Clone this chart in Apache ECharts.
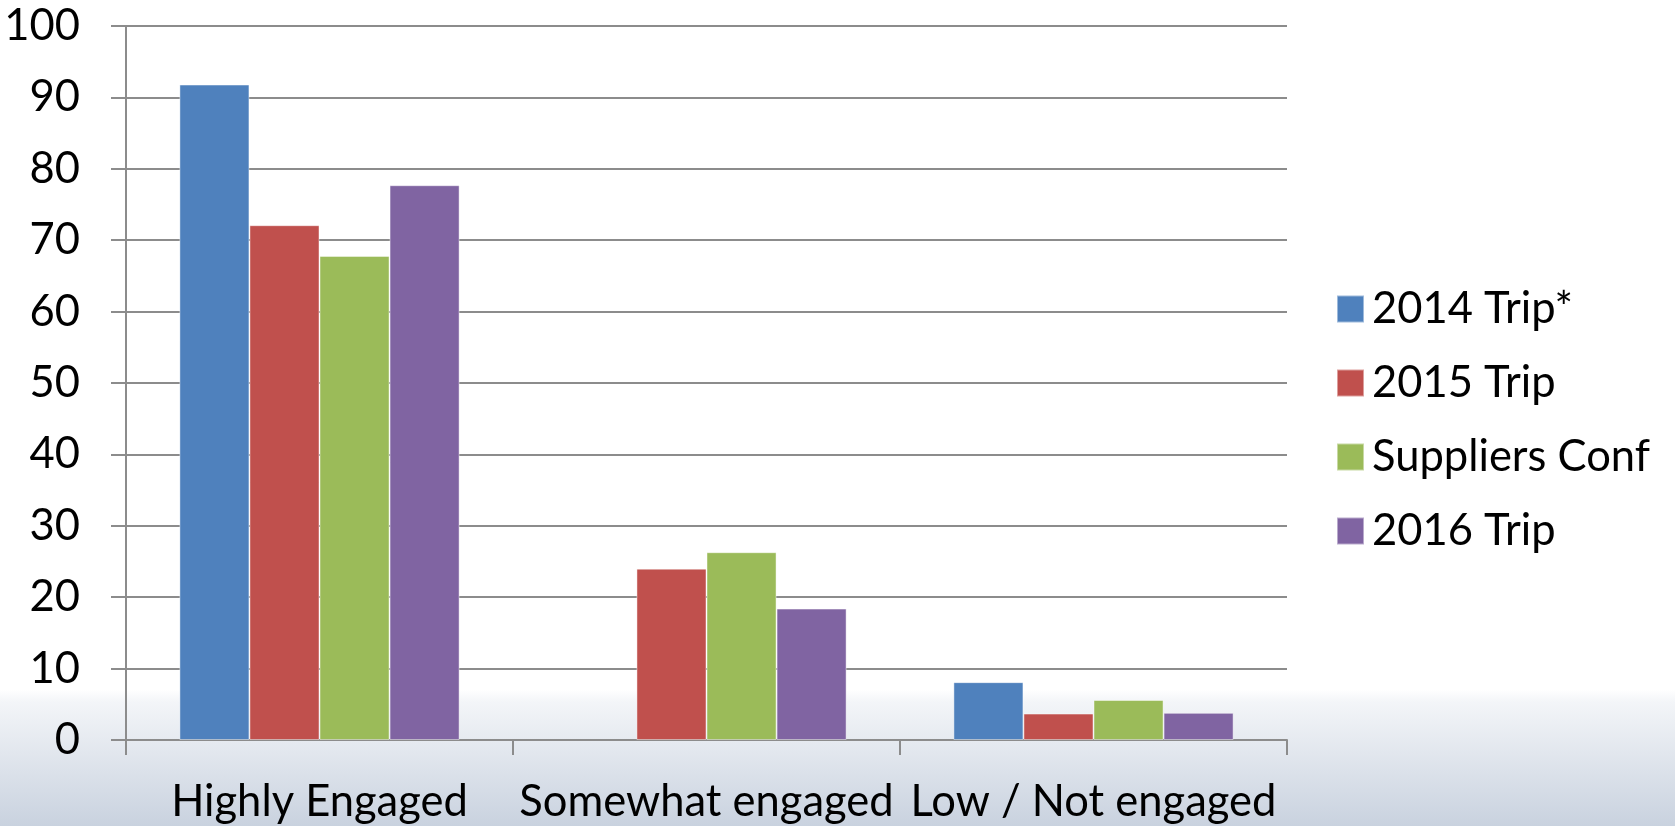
<!DOCTYPE html>
<html>
<head>
<meta charset="utf-8">
<script src="https://cdn.jsdelivr.net/npm/echarts@6/dist/echarts.min.js"></script>
<style>
html,body{margin:0;padding:0;}
#chart{width:1675px;height:826px;}
</style>
</head>
<body>
<div id="chart"></div>
<script>
var categories = ['Highly Engaged', 'Somewhat engaged', 'Low / Not engaged'];
var seriesNames = ['2014 Trip*', '2015 Trip', 'Suppliers Conf', '2016 Trip'];
var trip2014 = [91.8, null, 8.1];
var trip2015 = [72.1, 24.0, 3.7];
var suppliersConf = [67.8, 26.3, 5.6];
var trip2016 = [77.7, 18.4, 3.8];
var yTicks = [0, 10, 20, 30, 40, 50, 60, 70, 80, 90, 100];

var colors = ['#4F81BD', '#C0504D', '#9BBB59', '#8064A2'];
var values = [trip2014, trip2015, suppliersConf, trip2016];
var FONT = 'Lato';
var FS = 43.5;
var gridColor = '#8c8c8c';

var chart = echarts.init(document.getElementById('chart'));
chart.setOption({
  animation: false,
  backgroundColor: {
    type: 'linear', x: 0, y: 0, x2: 0, y2: 1,
    colorStops: [
      {offset: 0, color: '#ffffff'},
      {offset: 0.835, color: '#ffffff'},
      {offset: 0.85, color: '#f3f5f8'},
      {offset: 1, color: '#c9d2df'}
    ]
  },
  textStyle: {fontFamily: FONT},
  grid: {left: 126, right: 388, top: 26, bottom: 86, containLabel: false},
  legend: {
    orient: 'vertical',
    left: 1331,
    top: 282,
    icon: 'rect',
    itemWidth: 27,
    itemHeight: 27,
    itemGap: 30,
    data: seriesNames,
    textStyle: {fontFamily: FONT, fontSize: FS, color: '#000', lineHeight: 44, padding: [0, 0, 0, 3]}
  },
  xAxis: {
    type: 'category',
    data: categories,
    axisLine: {show: true, lineStyle: {color: gridColor, width: 2}},
    axisTick: {show: true, length: 15, alignWithLabel: false, lineStyle: {color: gridColor, width: 2}},
    axisLabel: {interval: 0, margin: 40, fontFamily: FONT, fontSize: FS, color: '#000'}
  },
  yAxis: {
    type: 'value',
    min: yTicks[0],
    max: yTicks[yTicks.length - 1],
    interval: yTicks[1] - yTicks[0],
    axisLine: {show: true, lineStyle: {color: gridColor, width: 2}},
    axisTick: {show: true, length: 15, lineStyle: {color: gridColor, width: 2}},
    splitLine: {show: true, lineStyle: {color: gridColor, width: 2}},
    axisLabel: {margin: 46, fontFamily: FONT, fontSize: FS, color: '#000'}
  },
  series: seriesNames.map(function (name, i) {
    return {
      name: name,
      type: 'bar',
      data: values[i],
      barGap: '0%',
      barCategoryGap: '27.6%',
      itemStyle: {color: colors[i], borderColor: 'rgba(255,255,255,0.45)', borderWidth: 1}
    };
  })
});
</script>
</body>
</html>
